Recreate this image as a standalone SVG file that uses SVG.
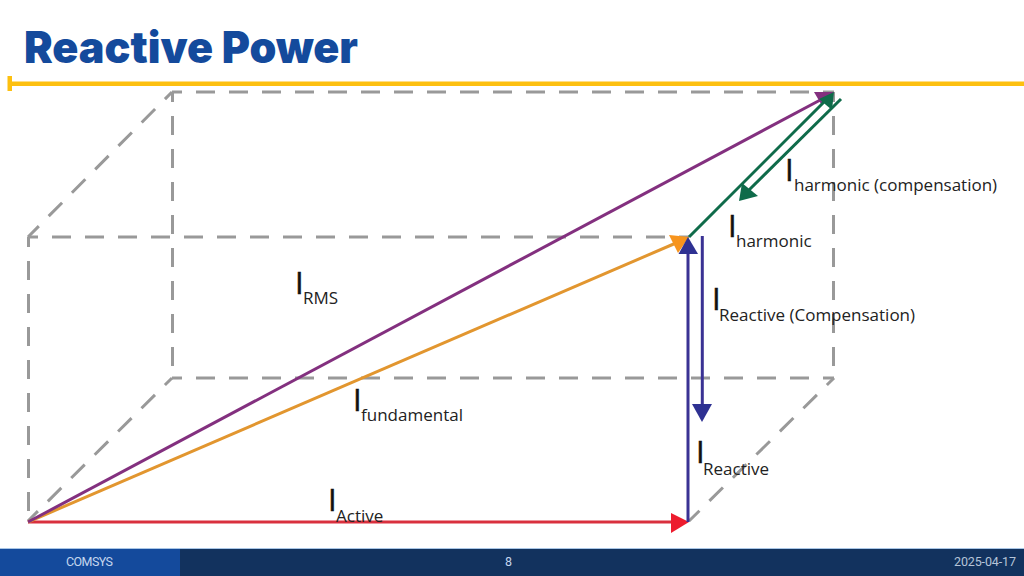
<svg xmlns="http://www.w3.org/2000/svg" width="1024" height="576" viewBox="0 0 1024 576">
<style>
.d{fill:none;stroke:#999;stroke-width:3;stroke-dasharray:19 14;stroke-dashoffset:9}
.v{fill:none;stroke-width:3}
.i{font-family:"Open Sans","Liberation Sans",sans-serif;font-size:31px;fill:#111;stroke:#111;stroke-width:.5}
.s{font-family:"Open Sans","Liberation Sans",sans-serif;font-size:17px;fill:#222}
.f{font-family:Roboto,"Liberation Sans",sans-serif;font-size:12.500px}
</style>
<rect width="1024" height="576" fill="#fff"/>
<g id="header">
<text x="24" y="63" font-family="Inter,'Liberation Sans',sans-serif" font-size="44" font-weight="900" fill="#144a9c" textLength="334" lengthAdjust="spacingAndGlyphs">Reactive Power</text>
<rect x="8" y="81.500" width="1016" height="4.500" fill="#fdc010"/>
<rect x="7.500" y="76" width="4.500" height="15" fill="#fdc010"/>
</g>
<g id="box">
<path class="d" d="M172 92H834"/>
<path class="d" d="M833.500 92V378"/>
<path class="d" d="M172.500 92V378"/>
<path class="d" d="M172 378H834"/>
<path class="d" d="M172 92L28 237"/>
<path class="d" d="M28.500 237V521"/>
<path class="d" d="M28 237H689"/>
<path class="d" d="M172 378L28 521"/>
<path class="d" d="M834 378L689 521"/>
</g>
<g id="connectors">
<path class="v" stroke="#d9303e" d="M28 522H673"/>
<polygon fill="#ed1c2e" points="689,522 671,513 671,533"/>
<path class="v" stroke="#3a3294" d="M688 522V250"/>
<path class="v" stroke="#3a3294" d="M702.300 236V406"/>
<polygon fill="#2e3192" points="702,422 692,404 712,404"/>
<path class="v" stroke="#e2962f" d="M28 522L676 243"/>
<polygon fill="#f7941d" points="689,237 669,235 678,253"/>
<polygon fill="#2e3192" points="688,237 678.500,254 698,254"/>
<path class="v" stroke="#83307f" d="M28 522L824 98"/>
<polygon fill="#83307f" points="834,92 814,92 821,104"/>
<path class="v" stroke="#0f6b4a" d="M689 237L826 100"/>
<polygon fill="#0f6b4a" points="834,92 819,99 832,110"/>
<path class="v" stroke="#0f6b4a" d="M841 99L749 190"/>
<polygon fill="#0f6b4a" points="739,201 742,183 758,196"/>
</g>
<g id="label-irms"><text class="i" x="295" y="294">I</text><text class="s" x="303" y="304">RMS</text></g>
<g id="label-ifundamental"><text class="i" x="353" y="411">I</text><text class="s" x="361" y="421">fundamental</text></g>
<g id="label-iactive"><text class="i" x="328" y="511">I</text><text class="s" x="336" y="522">Active</text></g>
<g id="label-ireactive"><text class="i" x="696" y="463">I</text><text class="s" x="703" y="475">Reactive</text></g>
<g id="label-ireactive-comp"><text class="i" x="712" y="310">I</text><text class="s" x="719" y="321">Reactive (Compensation)</text></g>
<g id="label-iharmonic"><text class="i" x="728" y="237">I</text><text class="s" x="736" y="247">harmonic</text></g>
<g id="label-iharmonic-comp"><text class="i" x="785" y="181">I</text><text class="s" x="794" y="191">harmonic (compensation)</text></g>
<g id="footer">
<rect y="549" width="1024" height="27" fill="#12325e"/>
<rect y="549" width="180" height="27" fill="#144a9c"/>
<rect y="548" width="1024" height="1" fill="#a9c6e6"/>
<text class="f" x="66" y="566" fill="#c4d6ee" textLength="47">COMSYS</text>
<text class="f" x="505" y="566" fill="#c4d6ee">8</text>
<text class="f" x="954" y="566" fill="#b5c4d8" textLength="62">2025-04-17</text>
</g>
</svg>
